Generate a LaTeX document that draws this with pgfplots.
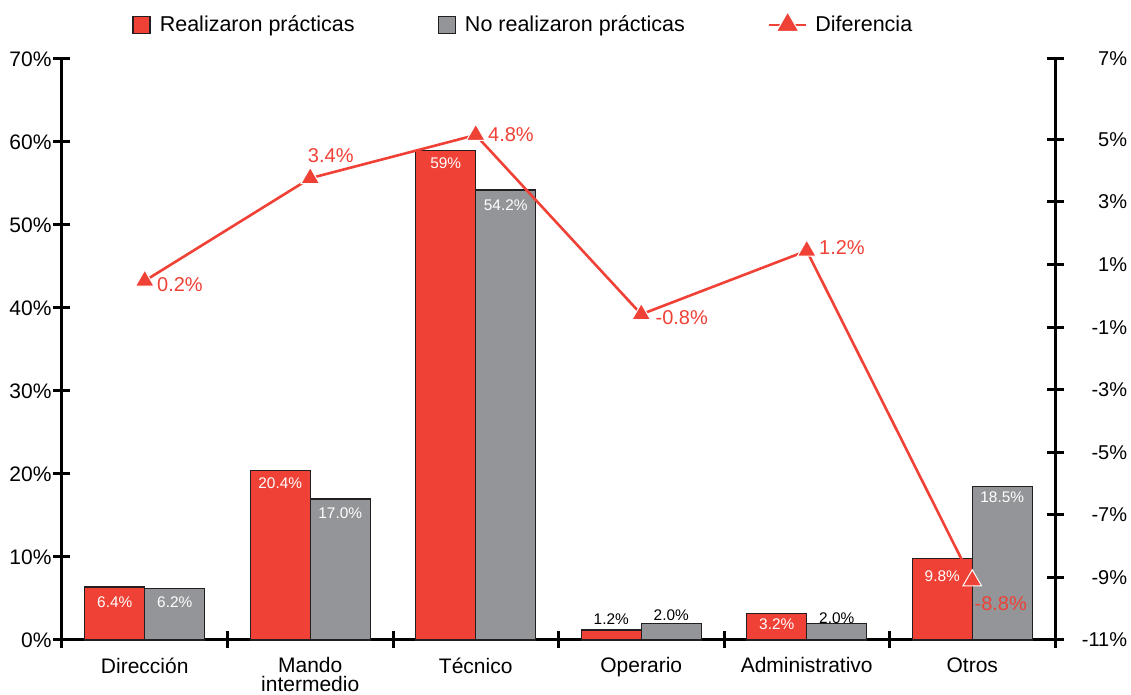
\documentclass[border=0pt]{standalone}
\usepackage{pgfplots}
\pgfplotsset{compat=1.18}
\usepackage{fontspec}
\setmainfont{Liberation Sans}
\definecolor{cred}{RGB}{239,65,54}
\definecolor{cgray}{RGB}{147,149,152}
\definecolor{cedge}{RGB}{35,31,32}
\pgfplotsset{
  barleg/.style={legend image code/.code={\draw[##1] (0pt,-4.25pt) rectangle (8.5pt,4.25pt); \path (11pt,0pt);}},
  lineleg/.style={legend image code/.code={\draw[mark repeat=2,mark phase=2,##1,mark size=6.5pt] plot coordinates {(0pt,0pt) (9.25pt,0pt) (18.5pt,0pt)}; \path (20.5pt,0pt);}},
}
\begin{document}
\begin{tikzpicture}
\begin{axis}[
  name=ax,
  width=496.5pt, height=290.5pt, scale only axis,
  xmin=-0.5, xmax=5.5, ymin=0, ymax=70,
  axis x line*=bottom, axis y line*=left,
  axis line style={line width=1.5pt, black},
  ybar=0pt, bar width=30pt,
  xtick={-0.5,0.5,1.5,2.5,3.5,4.5,5.5},
  x tick label as interval,
  xticklabels={Dirección,{Mando\\intermedio},Técnico,Operario,Administrativo,Otros},
  xticklabel style={font=\fontsize{10.5}{9.6}\selectfont, align=center, yshift=-1pt},
  ytick={0,10,20,30,40,50,60,70},
  yticklabels={0\%,10\%,20\%,30\%,40\%,50\%,60\%,70\%},
  yticklabel style={font=\fontsize{10.5}{12}\selectfont, xshift=2.5pt},
  tick style={line width=1.5pt, black},
  major tick length=8.5pt, tick align=center,
  clip=false,
]
\addplot[fill=cred, draw=cedge, line width=0.7pt] coordinates {(0,6.4) (1,20.4) (2,59) (3,1.2) (4,3.2) (5,9.8)};
\addplot[fill=cgray, draw=cedge, line width=0.7pt] coordinates {(0,6.2) (1,17.0) (2,54.2) (3,2.0) (4,2.0) (5,18.5)};
\tikzset{bl/.style={font=\fontsize{7.7}{9}\selectfont, inner sep=0pt}}
\node[bl, text=white] at (axis cs:-0.1813,4.61) {6.4\%};
\node[bl, text=white] at (axis cs:0.1813,4.61) {6.2\%};
\node[bl, text=white] at (axis cs:0.8187,18.92) {20.4\%};
\node[bl, text=white] at (axis cs:1.1813,15.30) {17.0\%};
\node[bl, text=white] at (axis cs:1.8187,57.47) {59\%};
\node[bl, text=white] at (axis cs:2.1813,52.41) {54.2\%};
\node[bl, text=black] at (axis cs:2.8187,2.53) {1.2\%};
\node[bl, text=black] at (axis cs:3.1813,2.93) {2.0\%};
\node[bl, text=white] at (axis cs:3.8187,1.93) {3.2\%};
\node[bl, text=black] at (axis cs:4.1813,2.61) {2.0\%};
\node[bl, text=white] at (axis cs:4.8187,7.71) {9.8\%};
\node[bl, text=white] at (axis cs:5.1813,17.23) {18.5\%};
\end{axis}
\begin{axis}[
  width=496.5pt, height=290.5pt, scale only axis,
  xmin=-0.5, xmax=5.5, ymin=-11, ymax=7.57,
  axis x line=none, axis y line*=right,
  axis line style={line width=1.5pt, black},
  xtick=\empty,
  ytick={-11,-9,-7,-5,-3,-1,1,3,5,7.57},
  yticklabels={-11\%,-9\%,-7\%,-5\%,-3\%,-1\%,1\%,3\%,5\%,7\%},
  yticklabel style={font=\fontsize{10}{12}\selectfont, anchor=east, inner sep=0pt, xshift=32pt},
  tick style={line width=1.5pt, black},
  major tick length=8.5pt, tick align=center,
  clip=false,
  legend columns=3,
  legend style={draw=none, fill=none, inner sep=0pt, at={(0,1)}, anchor=west,
    xshift=35pt, yshift=17pt, font=\fontsize{10.75}{12}\selectfont,
    /tikz/every even column/.append style={column sep=39.5pt}},
  legend cell align=left,
]
\addlegendimage{fill=cred, draw=cedge, line width=0.7pt, barleg}
\addlegendentry{Realizaron prácticas}
\addlegendimage{fill=cgray, draw=cedge, line width=0.7pt, barleg}
\addlegendentry{No realizaron prácticas}
\addplot[cred, line width=1.3pt, mark=triangle*, mark size=5.4pt,
  mark options={fill=cred, draw=white, line width=0.5pt}, lineleg]
  coordinates {(0,0.48) (1,3.76) (2,5.14) (3,-0.59) (4,1.44) (5,-9.10)};
\addlegendentry{Diferencia}
\tikzset{dl/.style={font=\fontsize{10}{12}\selectfont, text=cred, inner sep=0pt}}
\node[dl, anchor=west, xshift=6pt, yshift=-2pt] at (axis cs:0,0.48) {0.2\%};
\node[dl, xshift=10.25pt, yshift=11.5pt] at (axis cs:1,3.76) {3.4\%};
\node[dl, anchor=west, xshift=6pt, yshift=0pt] at (axis cs:2,5.14) {4.8\%};
\node[dl, anchor=west, xshift=7pt, yshift=-1.6pt] at (axis cs:3,-0.59) {-0.8\%};
\node[dl, anchor=west, xshift=6pt, yshift=1.6pt] at (axis cs:4,1.44) {1.2\%};
\node[dl, anchor=west, xshift=1pt, yshift=-11.4pt] at (axis cs:5,-9.10) {-8.8\%};
\end{axis}
\pgfresetboundingbox
\path[use as bounding box] ([shift={(-31pt,-27.5pt)}]ax.south west) rectangle ([shift={(38pt,29.5pt)}]ax.north east);
\end{tikzpicture}
\end{document}
